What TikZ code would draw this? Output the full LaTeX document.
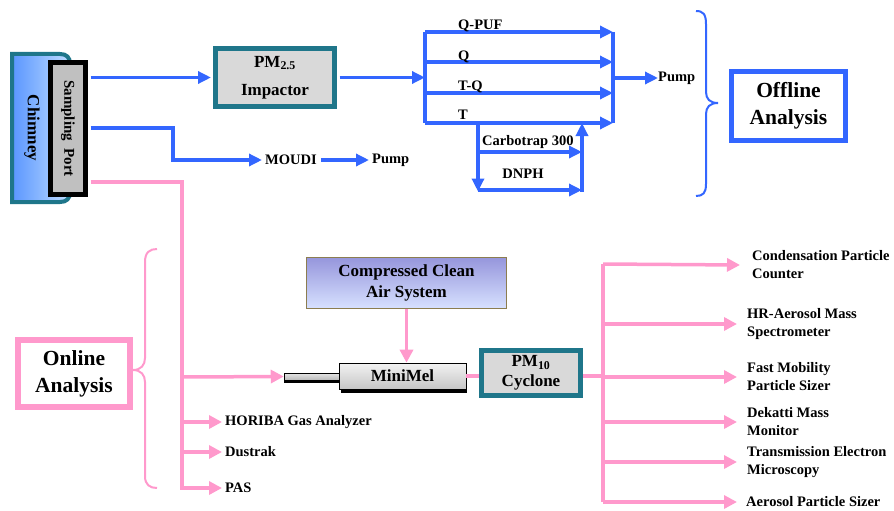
\documentclass[tikz,border=0pt]{standalone}
\usepackage{fontspec}
\setmainfont{Liberation Serif}
\usetikzlibrary{arrows.meta}
\definecolor{bl}{RGB}{51,102,255}
\definecolor{pk}{RGB}{255,153,204}
\definecolor{tl}{RGB}{31,118,138}
\definecolor{chimL}{RGB}{90,150,255}
\definecolor{chimR}{RGB}{190,220,255}
\definecolor{airT}{RGB}{150,150,220}
\definecolor{airB}{RGB}{215,225,255}
\definecolor{airD}{RGB}{140,125,80}
\definecolor{impF}{RGB}{217,217,217}
\definecolor{portF}{RGB}{192,192,192}
\begin{document}
\begin{tikzpicture}[x=1pt,y=-1pt,
 bline/.style={draw=bl,line width=3.5pt},
 barrow/.style={bline,-{Triangle[length=13pt,width=12pt]}},
 pline/.style={draw=pk,line width=3.5pt},
 parrow/.style={pline,-{Triangle[length=13pt,width=13pt]}},
 lbl/.style={font=\fontsize{14.5}{18}\selectfont\bfseries, inner sep=0pt, align=left},
 boxfont/.style={font=\fontsize{17}{#1}\selectfont\bfseries},
 tealbox/.style={draw=tl,line width=5pt,fill=impF,inner sep=0pt,align=center},
 anbox/.style={line width=6pt,fill=white,inner sep=0pt,align=center,font=\fontsize{21.5}{27}\selectfont\bfseries},
]
\useasboundingbox (0,0) rectangle (894,511);

% chimney
\path[draw=tl,line width=4pt,left color=chimL,right color=chimR]
  (12,54) -- (60,54) .. controls (66.6,54) and (70,57.4) .. (70,64) -- (70,192)
  .. controls (70,198.6) and (66.6,202) .. (60,202) -- (12,202) -- cycle;
\node[rotate=-90,boxfont=20] (chim) at (32,128) {Chimney};
\node[draw=black,line width=5pt,fill=portF,minimum width=35pt,minimum height=132pt,inner sep=0pt] (port) at (68,128.5) {};
\node[rotate=-90,font=\fontsize{15}{18}\selectfont\bfseries] (portl) at (port.center) {Sampling\ \ Port};

% impactor
\node[tealbox,boxfont=28,minimum width=119pt,minimum height=58pt] (imp) at (275,77.5) {PM\textsubscript{2.5}\\Impactor};
\draw[barrow,shorten <=2.5pt] (port.east |- imp.west) -- ([xshift=-2pt]imp.west);
\coordinate (split) at (425,77.5);
\draw[barrow,shorten <=2.5pt] (imp.east) -- (split);

% filter lines
\coordinate (l1) at (425,32); \coordinate (r1) at (613,32);
\coordinate (l2) at (425,62); \coordinate (r2) at (613,62);
\coordinate (l3) at (425,93); \coordinate (r3) at (613,93);
\coordinate (l4) at (425,123); \coordinate (r4) at (613,123);
\draw[bline] (l1) -- (l4);
\draw[bline] (r1) -- (r4);
\draw[barrow] (l1) -- (r1);
\draw[barrow] (l2) -- (r2);
\draw[barrow] (l3) -- (r3);
\draw[barrow] (l4) -- (r4);
\node[lbl,anchor=base west] (qpuf) at (458,30) {Q-PUF};
\node[lbl,anchor=base west] (q) at (458,60) {Q};
\node[lbl,anchor=base west] (tq) at (458,90) {T-Q};
\node[lbl,anchor=base west] (t) at (458,119) {T};
\node[lbl,anchor=west] (pump1) at (658,78) {Pump};
\draw[barrow] (613,78) -- (pump1.west);

% carbotrap / DNPH
\coordinate (c0) at (478,123); \coordinate (c1) at (478,152); \coordinate (c2) at (478,191.5);
\coordinate (d0) at (582,123); \coordinate (d1) at (582,152); \coordinate (d2) at (582,191.5);
\draw[barrow] (c0) -- (c2);
\draw[barrow] (478,190) -- (582,190);
\draw[barrow] (c1) -- (d1);
\draw[barrow] (d2) -- (d0);
\node[lbl,anchor=base west] (carbo) at (482,145) {Carbotrap 300};
\node[lbl] (dnph) at (523,174) {DNPH};

% MOUDI
\node[lbl,anchor=west] (moudi) at (265,160) {MOUDI};
\node[lbl,anchor=west] (pump2) at (372,160) {Pump};
\draw[barrow,shorten <=2.5pt] (port.east |- 0,128) -- (173,128) |- ([xshift=-3pt]moudi.west);
\draw[barrow] ([xshift=4pt]moudi.east) -- ([xshift=-3pt]pump2.west);

% offline brace + box
\draw[bl,line width=2pt] (696,11) .. controls (703,11) and (706,14) .. (706,24) -- (706,92)
  .. controls (706,99) and (710,103) .. (718,103) .. controls (710,103) and (706,107) .. (706,114)
  -- (706,184) .. controls (706,193) and (703,196) .. (696,196);
\node[anbox,draw=bl,line width=5pt,minimum width=114pt,minimum height=69pt] (offline) at (788.5,106) {Offline\\Analysis};

% lower part
\node[draw=airD,line width=1.2pt,top color=airT,bottom color=airB,minimum width=200pt,minimum height=51pt,align=center,boxfont=20.5] (air) at (406.5,283) {Compressed Clean\\Air System};
\fill[black] (341,386) rectangle (467,392.5);
\fill[black] (284,377) rectangle (339,383);
\node[draw=black,line width=0.5pt,top color=gray!20,bottom color=gray!55,minimum width=55pt,minimum height=7pt,inner sep=0pt] (tube) at (311.5,376.5) {};
\node[draw=black,line width=0.6pt,top color=gray!10,bottom color=gray!45,minimum width=127pt,minimum height=26pt,inner sep=0pt,boxfont=20] (mini) at (402.5,376) {MiniMel};
\node[tealbox,boxfont=20,minimum width=99pt,minimum height=45pt] (cyc) at (531,373) {PM\textsubscript{10}\\Cyclone};

\draw[parrow] (air.south) -- (air.south |- mini.north);
\draw[pline] (mini.east) -- (cyc.west |- mini.east);

% left online branch
\node[lbl,anchor=west] (hor) at (225,422) {HORIBA Gas Analyzer};
\node[lbl,anchor=west] (dust) at (225,452) {Dustrak};
\node[lbl,anchor=west] (pas) at (225,488) {PAS};
\draw[parrow,shorten <=2.5pt] (port.east |- 0,182) -- (182,182) |- ([xshift=-3pt]pas.west);
\draw[parrow] (182,377) -- (tube.west);
\draw[parrow] (182,422) -- ([xshift=-3pt]hor.west);
\draw[parrow] (182,452) -- ([xshift=-3pt]dust.west);

\draw[pk,line width=2pt] (157,249) .. controls (150,249) and (145,252) .. (145,262) -- (145,358)
  .. controls (145,365) and (141,370) .. (133,370) .. controls (141,370) and (145,375) .. (145,382)
  -- (145,476) .. controls (145,485) and (150,488) .. (157,488);
\node[anbox,draw=pk,minimum width=112pt,minimum height=67pt] (online) at (74,373.5) {Online\\Analysis};

% right branch
\coordinate (bt) at (603,264); \coordinate (bb) at (603,502);
\draw[pline] (cyc.east |- mini.east) -- (603,376);
\draw[pline] (bt) -- (bb);
\node[lbl,anchor=west] (cpc) at (752,265) {Condensation Particle\\Counter};
\node[lbl,anchor=west] (hr) at (747,324) {HR-Aerosol Mass\\Spectrometer};
\node[lbl,anchor=west] (fmps) at (747,377) {Fast Mobility\\Particle Sizer};
\node[lbl,anchor=west] (dmm) at (747,422) {Dekatti Mass\\Monitor};
\node[lbl,anchor=west] (tem) at (747,462) {Transmission Electron\\Microscopy};
\node[lbl,anchor=west] (aps) at (746,502) {Aerosol Particle Sizer};
\draw[parrow] (bt) -- ([xshift=-12pt]cpc.west);
\draw[parrow] (603,324) -- ([xshift=-10pt]hr.west);
\draw[parrow] (603,377) -- ([xshift=-10pt]fmps.west);
\draw[parrow] (603,422) -- ([xshift=-10pt]dmm.west);
\draw[parrow] (603,462) -- ([xshift=-10pt]tem.west);
\draw[parrow] (bb) -- ([xshift=-9pt]aps.west);
\end{tikzpicture}
\end{document}
